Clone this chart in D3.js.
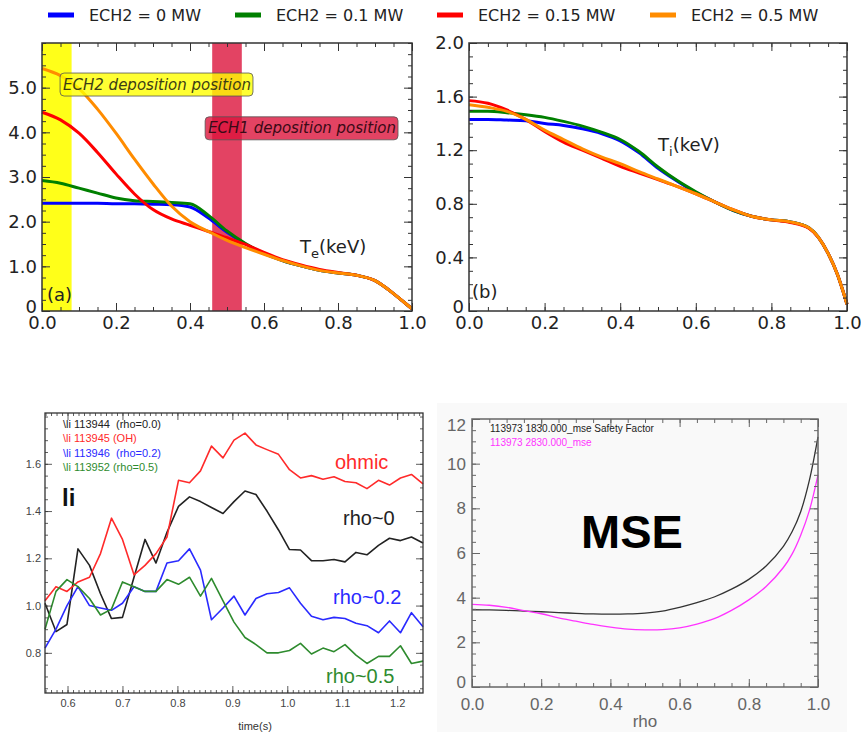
<!DOCTYPE html>
<html>
<head>
<meta charset="utf-8">
<script src="https://cdn.jsdelivr.net/npm/d3@7"></script>
<style>
  body { margin: 0; background: #fff; }
  svg { display: block; }
</style>
</head>
<body>
<div id="chart"></div>
<script>
// four-panel figure: Te / Ti profiles for different ECH2 power (top),
// internal inductance li vs time and MSE safety factor (bottom)

// ---- top panels: profiles vs rho ----
const rho = [0, 0.05, 0.1, 0.15, 0.2, 0.25, 0.3, 0.35, 0.4, 0.45, 0.5, 0.55, 0.6, 0.65, 0.7, 0.75, 0.8, 0.85, 0.9, 0.95, 0.975, 1.0]

const ech2Labels = ["ECH2 = 0 MW", "ECH2 = 0.1 MW", "ECH2 = 0.15 MW", "ECH2 = 0.5 MW"]
const ech2Colors = ["#0000ff", "#008000", "#ff0000", "#ff8c00"]

// electron temperature (keV), panel (a)
const te0   = [2.41, 2.41, 2.41, 2.41, 2.40, 2.40, 2.39, 2.38, 2.33, 2.08, 1.76, 1.50, 1.29, 1.13, 1.01, 0.91, 0.85, 0.80, 0.68, 0.39, 0.22, 0.05]
const te01  = [2.92, 2.86, 2.75, 2.64, 2.53, 2.47, 2.45, 2.43, 2.40, 2.14, 1.79, 1.51, 1.29, 1.13, 1.01, 0.91, 0.85, 0.80, 0.68, 0.39, 0.22, 0.05]
const te015 = [4.45, 4.28, 3.98, 3.55, 3.07, 2.62, 2.27, 2.06, 1.92, 1.78, 1.64, 1.49, 1.31, 1.15, 1.03, 0.93, 0.86, 0.80, 0.68, 0.39, 0.22, 0.05]
const te05  = [5.43, 5.27, 4.98, 4.52, 3.98, 3.40, 2.85, 2.35, 2.00, 1.78, 1.58, 1.42, 1.27, 1.13, 1.01, 0.91, 0.85, 0.80, 0.68, 0.39, 0.22, 0.05]

// ion temperature (keV), panel (b)
const ti0   = [1.43, 1.43, 1.425, 1.42, 1.40, 1.385, 1.36, 1.325, 1.27, 1.18, 1.065, 0.97, 0.885, 0.815, 0.75, 0.705, 0.68, 0.665, 0.62, 0.43, 0.27, 0.05]
const ti01  = [1.49, 1.49, 1.48, 1.465, 1.445, 1.415, 1.38, 1.335, 1.28, 1.19, 1.075, 0.975, 0.89, 0.815, 0.75, 0.705, 0.68, 0.665, 0.62, 0.43, 0.27, 0.05]
const ti015 = [1.57, 1.55, 1.50, 1.43, 1.34, 1.26, 1.20, 1.14, 1.08, 1.03, 0.98, 0.93, 0.875, 0.815, 0.755, 0.705, 0.68, 0.66, 0.615, 0.43, 0.27, 0.05]
const ti05  = [1.54, 1.52, 1.49, 1.43, 1.35, 1.28, 1.21, 1.15, 1.10, 1.04, 0.985, 0.93, 0.875, 0.815, 0.755, 0.705, 0.68, 0.665, 0.62, 0.43, 0.27, 0.05]

const rhoTicks = [0, 0.2, 0.4, 0.6, 0.8, 1.0]
const teTicks  = [0, 1, 2, 3, 4, 5]
const tiTicks  = [0, 0.4, 0.8, 1.2, 1.6, 2.0]

// deposition bands (rho range)
const ech2Band = [0, 0.08]
const ech1Band = [0.46, 0.54]

// ---- bottom left: li vs time ----
const time = [0.559, 0.579, 0.599, 0.619, 0.640, 0.660, 0.680, 0.700, 0.721, 0.741, 0.761, 0.781, 0.802, 0.822, 0.842, 0.862, 0.883, 0.903,
              0.923, 0.943, 0.963, 0.984, 1.004, 1.024, 1.044, 1.065, 1.085, 1.105, 1.125, 1.145, 1.166, 1.186, 1.206, 1.226, 1.247]
const liRho0  = [1.01, 0.89, 0.92, 1.24, 1.17, 1.05, 0.945, 0.95, 1.12, 1.28, 1.18, 1.31, 1.42, 1.46, 1.44, 1.415, 1.39, 1.44,
                 1.485, 1.47, 1.40, 1.32, 1.237, 1.235, 1.19, 1.19, 1.195, 1.185, 1.225, 1.215, 1.255, 1.285, 1.275, 1.29, 1.265]
const liOH    = [1.02, 1.08, 1.06, 1.10, 1.12, 1.22, 1.37, 1.28, 1.13, 1.17, 1.22, 1.29, 1.53, 1.52, 1.57, 1.675, 1.625, 1.70,
                 1.73, 1.68, 1.66, 1.64, 1.575, 1.54, 1.55, 1.535, 1.545, 1.525, 1.52, 1.495, 1.53, 1.51, 1.54, 1.555, 1.515]
const liRho02 = [0.82, 0.90, 1.00, 1.08, 1.00, 0.99, 0.98, 1.01, 1.08, 1.06, 1.06, 1.18, 1.19, 1.24, 1.15, 0.94, 0.99, 1.04,
                 0.96, 1.03, 1.05, 1.055, 1.075, 1.01, 0.955, 0.94, 0.95, 0.945, 0.925, 0.915, 0.885, 0.935, 0.885, 0.97, 0.91]
const liRho05 = [0.90, 1.06, 1.11, 1.08, 1.03, 0.96, 0.985, 1.10, 1.08, 1.06, 1.06, 1.11, 1.09, 1.12, 1.04, 1.115, 1.02, 0.93,
                 0.865, 0.835, 0.80, 0.80, 0.81, 0.84, 0.795, 0.82, 0.805, 0.835, 0.79, 0.755, 0.785, 0.785, 0.83, 0.755, 0.765]

const liLegend = ["\\li 113944  (rho=0.0)", "\\li 113945 (OH)", "\\li 113946  (rho=0.2)", "\\li 113952 (rho=0.5)"]
const liTags   = ["rho~0", "ohmic", "rho~0.2", "rho~0.5"]
const liColors = ["#222222", "#ff2a2a", "#2a2aff", "#2e8b2e"]
const timeTicks = [0.6, 0.7, 0.8, 0.9, 1.0, 1.1, 1.2]
const liTicks   = [0.8, 1.0, 1.2, 1.4, 1.6]

// ---- bottom right: MSE safety factor ----
const rhoQ = [0, 0.05, 0.1, 0.15, 0.2, 0.25, 0.3, 0.35, 0.4, 0.45, 0.5, 0.55, 0.6, 0.65, 0.7, 0.75, 0.8, 0.85, 0.9, 0.925, 0.95, 0.975, 1.0]
const q1830 = [3.46, 3.45, 3.43, 3.40, 3.37, 3.33, 3.30, 3.27, 3.26, 3.27, 3.31, 3.40, 3.57, 3.78, 4.03, 4.38, 4.82, 5.42, 6.30, 6.95, 7.85, 9.25, 11.2]
const q2830 = [3.70, 3.66, 3.57, 3.42, 3.28, 3.10, 2.95, 2.80, 2.68, 2.59, 2.56, 2.57, 2.65, 2.82, 3.06, 3.43, 3.90, 4.50, 5.35, 5.95, 6.80, 7.90, 9.50]
const qLegend = ["113973 1830.000_mse Safety Factor", "113973 2830.000_mse"]
const qColors = ["#333333", "#ff33ff"]
const qTicks  = [0, 2, 4, 6, 8, 10, 12]

const W = 861, H = 732
const svg = d3.select("#chart").append("svg")
  .attr("width", W).attr("height", H)
  .style("font-family", "'DejaVu Sans', sans-serif")

svg.append("rect").attr("width", W).attr("height", H).attr("fill", "#fff")

// the MSE plot sits on a slightly grey backdrop
svg.append("rect").attr("x", 437).attr("y", 403).attr("width", 410).attr("height", 329).attr("fill", "#f9f9f9")

// box with inward ticks on all four sides, labels only bottom + left
function drawFrame(g, x, y, o) {
  const w = x.range()[1], h = y.range()[0]
  const ax = g.append("g")
  const sides = [
    [d3.axisBottom, x, `translate(0,${h})`, true],
    [d3.axisTop,    x, "translate(0,0)",    false],
    [d3.axisLeft,   y, "translate(0,0)",    true],
    [d3.axisRight,  y, `translate(${w},0)`, false]
  ]
  sides.forEach(([axisFn, sc, tr, labelled]) => {
    const isX = sc === x
    ax.append("g").attr("transform", tr)
      .call(axisFn(sc).tickValues(isX ? o.xMinor : o.yMinor).tickSize(-o.minorLen).tickFormat(""))
    ax.append("g").attr("transform", tr)
      .attr("class", labelled ? (isX ? "xlab" : "ylab") : null)
      .call(axisFn(sc).tickValues(isX ? o.xMajor : o.yMajor).tickSize(-o.majorLen)
        .tickPadding(isX ? o.xPad : o.yPad)
        .tickFormat(labelled ? (isX ? o.xFormat : o.yFormat) : ""))
  })
  ax.selectAll(".domain").remove()
  ax.selectAll(".tick line").attr("stroke", o.color).attr("stroke-width", o.tickWidth)
  ax.selectAll(".tick text")
    .attr("fill", o.labelColor)
    .style("font-size", o.fontSize + "px")
    .style("font-family", o.font)
  g.append("rect")
    .attr("width", w).attr("height", h)
    .attr("fill", "none").attr("stroke", o.color).attr("stroke-width", o.frameWidth)
  return ax
}

function drawLines(g, x, y, xs, series, colors, width, curve) {
  const line = d3.line().x(d => x(d[0])).y(d => y(d[1])).curve(curve)
  series.forEach((s, i) => {
    g.append("path")
      .datum(xs.map((v, j) => [v, s[j]]))
      .attr("d", line)
      .attr("fill", "none")
      .attr("stroke", colors[i])
      .attr("stroke-width", width)
      .attr("stroke-linejoin", "round")
  })
}

const fmt1 = d => d === 0 ? "0" : d.toFixed(1)
const topStyle = {
  majorLen: 8, minorLen: 4, color: "#333", tickWidth: 1, frameWidth: 1.5,
  labelColor: "#222", fontSize: 18, font: "'DejaVu Sans', sans-serif",
  xPad: 5, yPad: 5, xFormat: d => d.toFixed(1), yFormat: fmt1,
  xMajor: rhoTicks, xMinor: d3.range(0, 1.001, 0.05)
}

// ---- legend across the top ----
const legendX = [48, 235, 437, 650]
ech2Labels.forEach((lab, i) => {
  svg.append("line")
    .attr("x1", legendX[i]).attr("x2", legendX[i] + 26)
    .attr("y1", 15).attr("y2", 15)
    .attr("stroke", ech2Colors[i]).attr("stroke-width", 5)
  svg.append("text")
    .attr("x", legendX[i] + 41).attr("y", 21)
    .style("font-size", "16px").attr("fill", "#222")
    .text(lab)
})

// ---- panel (a): Te ----
const pa = svg.append("g").attr("transform", "translate(42,43)")
const xa = d3.scaleLinear().domain([0, 1]).range([0, 370])
const ya = d3.scaleLinear().domain([0, 6]).range([268, 0])

pa.append("rect")
  .attr("x", xa(ech2Band[0])).attr("width", xa(ech2Band[1]) - xa(ech2Band[0]))
  .attr("y", 0).attr("height", 268)
  .attr("fill", "#ffff00").attr("opacity", 0.9)
pa.append("rect")
  .attr("x", xa(ech1Band[0])).attr("width", xa(ech1Band[1]) - xa(ech1Band[0]))
  .attr("y", 0).attr("height", 268)
  .attr("fill", "crimson").attr("opacity", 0.8)

drawLines(pa, xa, ya, rho, [te0, te01, te015, te05], ech2Colors, 3, d3.curveMonotoneX)

// annotation boxes drawn over the curves
function tagBox(g, x, y, txt, fill, fillOp, color) {
  const t = g.append("text")
    .attr("x", x).attr("y", y)
    .attr("dominant-baseline", "central")
    .style("font-size", "15px").style("font-style", "italic")
    .attr("fill", color)
    .text(txt)
  const b = t.node().getBBox()
  g.insert("rect", () => t.node())
    .attr("x", b.x - 3).attr("y", b.y - 2.5)
    .attr("width", b.width + 5).attr("height", b.height + 5)
    .attr("rx", 4)
    .attr("fill", fill).attr("fill-opacity", fillOp)
    .attr("stroke", "#555").attr("stroke-opacity", 0.8).attr("stroke-width", 1)
}
tagBox(pa, xa(0.057), ya(5.07), "ECH2 deposition position", "#ffff00", 0.8, "#3d3d14")
tagBox(pa, xa(0.449), ya(4.09), "ECH1 deposition position", "crimson", 0.8, "#3a0a16")

const axa = drawFrame(pa, xa, ya, Object.assign({}, topStyle, {
  yMajor: teTicks, yMinor: d3.range(0, 6.001, 0.25)
}))

pa.append("text").attr("x", 5).attr("y", 258)
  .style("font-size", "18px").attr("fill", "#222").text("(a)")
const teLab = pa.append("text").attr("x", 258).attr("y", 210)
  .style("font-size", "18px").attr("fill", "#222")
teLab.append("tspan").text("T")
teLab.append("tspan").attr("dy", 5).style("font-size", "13px").text("e")
teLab.append("tspan").attr("dy", -5).text("(keV)")

// ---- panel (b): Ti ----
const pb = svg.append("g").attr("transform", "translate(469,43)")
const xb = d3.scaleLinear().domain([0, 1]).range([0, 378])
const yb = d3.scaleLinear().domain([0, 2]).range([268, 0])

drawLines(pb, xb, yb, rho, [ti0, ti01, ti015, ti05], ech2Colors, 3, d3.curveMonotoneX)

const axb = drawFrame(pb, xb, yb, Object.assign({}, topStyle, {
  yMajor: tiTicks, yMinor: d3.range(0, 2.001, 0.1)
}))

// the y "0" sits just above the x "0.0", as in matplotlib
;[axa, axb].forEach(ax => {
  ax.selectAll(".ylab .tick text").attr("transform", d => d === 0 ? "translate(0,-4)" : null)
})

pb.append("text").attr("x", 3).attr("y", 255)
  .style("font-size", "18px").attr("fill", "#222").text("(b)")
const tiLab = pb.append("text").attr("x", 189).attr("y", 108)
  .style("font-size", "18px").attr("fill", "#222")
tiLab.append("tspan").text("T")
tiLab.append("tspan").attr("dy", 5).style("font-size", "13px").text("i")
tiLab.append("tspan").attr("dy", -5).text("(keV)")

// ---- panel (c): li vs time ----
const pc = svg.append("g").attr("transform", "translate(45,413)")
  .style("font-family", "'Liberation Sans', Arial, sans-serif")
const xc = d3.scaleLinear().domain([0.559, 1.247]).range([0, 378])
const yc = d3.scaleLinear().domain([0.63, 1.815]).range([280, 0])

drawLines(pc, xc, yc, time, [liRho0, liOH, liRho02, liRho05], liColors, 1.6, d3.curveLinear)

drawFrame(pc, xc, yc, {
  majorLen: 7, minorLen: 3, color: "#333", tickWidth: 0.8, frameWidth: 1.3,
  labelColor: "#444", fontSize: 11, font: "'Liberation Sans', Arial, sans-serif",
  xPad: 6, yPad: 4, xFormat: d => d.toFixed(1), yFormat: d => d.toFixed(1),
  xMajor: timeTicks, xMinor: d3.range(0.56, 1.247, 0.01),
  yMajor: liTicks, yMinor: d3.range(0.65, 1.815, 0.05)
})

// legend inside the frame
liLegend.forEach((t, i) => {
  pc.append("text")
    .attr("x", 18).attr("y", 15 + i * 14.4)
    .style("font-size", "11px").style("white-space", "pre")
    .attr("fill", liColors[i])
    .text(t)
})

pc.append("text").attr("x", 17).attr("y", 93)
  .style("font-size", "24px").style("font-weight", "bold").attr("fill", "#111")
  .text("li")

const tagPos = [[298, 112], [290, 56], [288, 191], [281, 270]]
liTags.forEach((t, i) => {
  pc.append("text")
    .attr("x", tagPos[i][0]).attr("y", tagPos[i][1])
    .style("font-size", "20px").attr("fill", liColors[i])
    .text(t)
})

pc.append("text").attr("x", 210).attr("y", 317)
  .attr("text-anchor", "middle")
  .style("font-size", "11px").attr("fill", "#333")
  .text("time(s)")

// ---- panel (d): MSE q profile ----
const pd = svg.append("g").attr("transform", "translate(472,419)")
  .style("font-family", "'Liberation Sans', Arial, sans-serif")
const xd = d3.scaleLinear().domain([0, 1]).range([0, 346])
const yd = d3.scaleLinear().domain([0, 12]).range([268, 0])

drawLines(pd, xd, yd, rhoQ, [q1830, q2830], qColors, 1.3, d3.curveCatmullRom)

const axd = drawFrame(pd, xd, yd, {
  majorLen: 8, minorLen: 4, color: "#666", tickWidth: 1, frameWidth: 1.5,
  labelColor: "#666", fontSize: 17, font: "'Liberation Sans', Arial, sans-serif",
  xPad: 11, yPad: 6, xFormat: d => d.toFixed(1), yFormat: d => d.toString(),
  xMajor: rhoTicks, xMinor: d3.range(0, 1.001, 0.05),
  yMajor: qTicks, yMinor: d3.range(0, 12.001, 0.5)
})
// IDL keeps the end labels inside the axis span
axd.selectAll(".ylab .tick text")
  .attr("transform", d => d === 12 ? "translate(0,6)" : d === 0 ? "translate(0,-5)" : null)

qLegend.forEach((t, i) => {
  pd.append("text")
    .attr("x", 18).attr("y", 13 + i * 14)
    .style("font-size", "10px")
    .attr("fill", i === 0 ? "#222" : qColors[i])
    .text(t)
})

pd.append("text").attr("x", 160).attr("y", 129)
  .attr("text-anchor", "middle")
  .style("font-size", "47px").style("font-weight", "bold").attr("fill", "#000")
  .text("MSE")

pd.append("text").attr("x", 173).attr("y", 308)
  .attr("text-anchor", "middle")
  .style("font-size", "17px").attr("fill", "#666")
  .text("rho")
</script>
</body>
</html>
